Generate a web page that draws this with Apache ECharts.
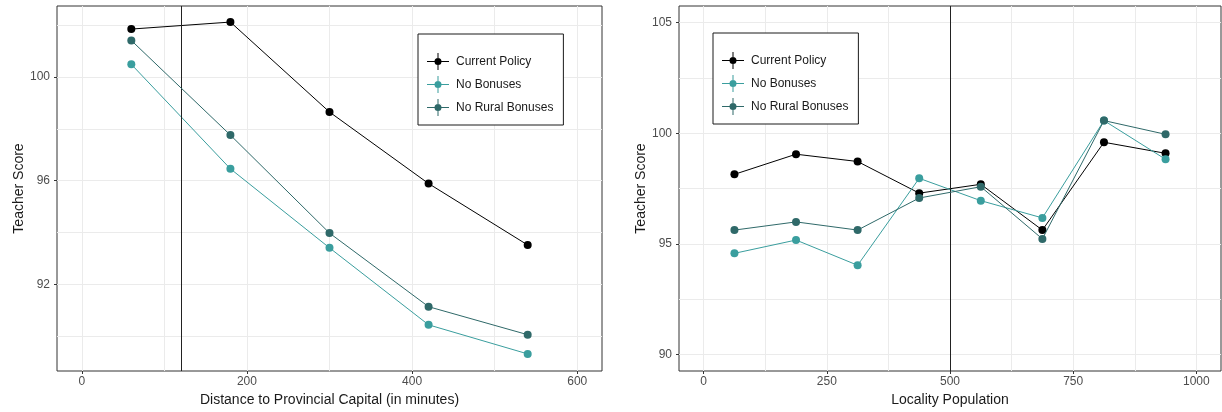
<!DOCTYPE html>
<html>
<head>
<meta charset="utf-8">
<script src="https://cdn.jsdelivr.net/npm/echarts@6/dist/echarts.min.js"></script>
<style>
  html, body { margin: 0; padding: 0; background: #fff; }
  #chart { width: 1222px; height: 412px; }
</style>
</head>
<body>
<div id="chart"></div>
<script>
// left panel: distance to provincial capital
const distX = [60, 180, 300, 420, 540];
const distCurrent = [101.85, 102.12, 98.65, 95.89, 93.52];
const distNoBonus = [100.49, 96.46, 93.41, 90.44, 89.32];
const distNoRural = [101.41, 97.76, 93.98, 91.14, 90.06];
const distCutoff = 120;
const distTicks = [0, 200, 400, 600];
const distGrid = [0, 100, 200, 300, 400, 500, 600];
const distScoreTicks = [92, 96, 100];
const distScoreGrid = [90, 92, 94, 96, 98, 100, 102];

// right panel: locality population
const popX = [62.5, 187.5, 312.5, 437.5, 562.5, 687.5, 812.5, 937.5];
const popCurrent = [98.14, 99.05, 98.72, 97.29, 97.69, 95.62, 99.59, 99.09];
const popNoBonus = [94.57, 95.17, 94.03, 97.96, 96.95, 96.17, 100.57, 98.82];
const popNoRural = [95.62, 95.99, 95.62, 97.07, 97.58, 95.22, 100.57, 99.95];
const popCutoff = 500;
const popTicks = [0, 250, 500, 750, 1000];
const popGrid = [0, 125, 250, 375, 500, 625, 750, 875, 1000];
const popScoreTicks = [90, 95, 100, 105];
const popScoreGrid = [90, 92.5, 95, 97.5, 100, 102.5, 105];

const names = ['Current Policy', 'No Bonuses', 'No Rural Bonuses'];
const colors = ['#000000', '#3a9e9e', '#2f6969'];

const FONT = 'Liberation Sans, Arial, sans-serif';
const zip = (xs, ys) => xs.map((x, i) => [x, ys[i]]);

const icon = 'path://M0,8h22v1h-22z M10.5,0h1v17h-1z M14.5,8.5a3.5,3.5 0 1,1 -7,0a3.5,3.5 0 1,1 7,0z';

function mainX(grid, min, max, ticks, name) {
  return {
    type: 'value', gridIndex: grid, position: 'bottom', min: min, max: max,
    name: name, nameLocation: 'middle', nameGap: 21,
    nameTextStyle: { fontFamily: FONT, fontSize: 14, color: '#1a1a1a' },
    axisLine: { show: false, onZero: false },
    axisTick: { show: true, length: 3, customValues: ticks, lineStyle: { color: '#333' } },
    axisLabel: { customValues: ticks, margin: 5, fontFamily: FONT, fontSize: 12, color: '#4d4d4d',
                 formatter: v => String(v) },
    splitLine: { show: false }
  };
}
function gridX(grid, min, max, lines) {
  return {
    type: 'value', gridIndex: grid, position: 'top', min: min, max: max,
    axisLine: { show: false, onZero: false },
    axisTick: { show: false, customValues: lines },
    axisLabel: { show: false },
    splitLine: { show: true, lineStyle: { color: '#ebebeb', width: 1 } }
  };
}
function mainY(grid, min, max, ticks, gap) {
  return {
    type: 'value', gridIndex: grid, position: 'left', min: min, max: max,
    name: 'Teacher Score', nameLocation: 'middle', nameGap: gap,
    nameTextStyle: { fontFamily: FONT, fontSize: 14, color: '#1a1a1a' },
    axisLine: { show: false, onZero: false },
    axisTick: { show: true, length: 3, customValues: ticks, lineStyle: { color: '#333' } },
    axisLabel: { customValues: ticks, margin: 7, fontFamily: FONT, fontSize: 12, color: '#4d4d4d',
                 formatter: v => String(v) },
    splitLine: { show: false }
  };
}
function gridY(grid, min, max, lines) {
  return {
    type: 'value', gridIndex: grid, position: 'right', min: min, max: max,
    axisLine: { show: false, onZero: false },
    axisTick: { show: false, customValues: lines },
    axisLabel: { show: false },
    splitLine: { show: true, lineStyle: { color: '#ebebeb', width: 1 } }
  };
}

function makeSeries(idx, xs, ys, axisIdx, cutoff) {
  const s = {
    name: names[idx], type: 'line',
    xAxisIndex: axisIdx, yAxisIndex: axisIdx,
    data: zip(xs, ys),
    symbol: 'circle', symbolSize: 8,
    itemStyle: { color: colors[idx] },
    lineStyle: { color: colors[idx], width: 1 },
    emphasis: { disabled: true },
    z: 3 + idx
  };
  if (cutoff !== undefined) {
    s.markLine = {
      silent: true, symbol: 'none', label: { show: false },
      lineStyle: { color: '#222', width: 1, type: 'solid' },
      data: [{ xAxis: cutoff }]
    };
  }
  return s;
}

function legend(left, top) {
  return {
    left: left, top: top, orient: 'vertical',
    data: names, icon: icon, itemWidth: 22, itemHeight: 17, itemGap: 6,
    padding: [19, 10, 9, 9],
    borderColor: '#1a1a1a', borderWidth: 1, backgroundColor: '#fff',
    textStyle: { fontFamily: FONT, fontSize: 12, color: '#1a1a1a', padding: [0, 0, 0, 2] },
    selectedMode: false
  };
}

const chart = echarts.init(document.getElementById('chart'), null, { renderer: 'canvas' });
chart.setOption({
  animation: false,
  backgroundColor: '#fff',
  grid: [
    { left: 57, right: 620, top: 6, bottom: 41, show: true, borderColor: '#333', borderWidth: 1, backgroundColor: 'transparent' },
    { left: 679, right: 1, top: 6, bottom: 41, show: true, borderColor: '#333', borderWidth: 1, backgroundColor: 'transparent' }
  ],
  xAxis: [
    mainX(0, -30, 630, distTicks, 'Distance to Provincial Capital (in minutes)'),
    gridX(0, -30, 630, distGrid),
    mainX(1, -50, 1050, popTicks, 'Locality Population'),
    gridX(1, -50, 1050, popGrid)
  ],
  yAxis: [
    mainY(0, 88.66, 102.74, distScoreTicks, 31),
    gridY(0, 88.66, 102.74, distScoreGrid),
    mainY(1, 89.25, 105.75, popScoreTicks, 31),
    gridY(1, 89.25, 105.75, popScoreGrid)
  ],
  legend: [legend(418, 34), legend(713, 33)],
  series: [
    makeSeries(0, distX, distCurrent, 0, distCutoff),
    makeSeries(1, distX, distNoBonus, 0),
    makeSeries(2, distX, distNoRural, 0),
    makeSeries(0, popX, popCurrent, 2, popCutoff),
    makeSeries(1, popX, popNoBonus, 2),
    makeSeries(2, popX, popNoRural, 2)
  ]
});
</script>
</body>
</html>
